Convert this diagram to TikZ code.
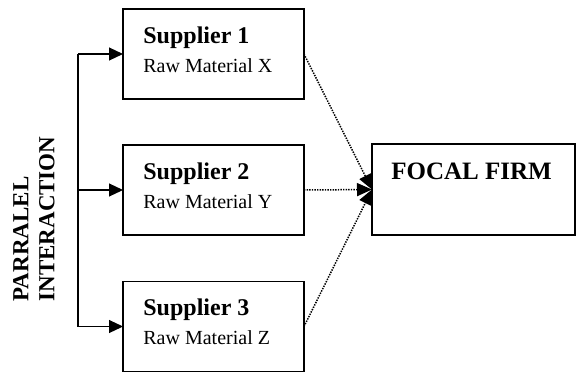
\documentclass[tikz,border=0pt]{standalone}
\usepackage{fontspec}
\setmainfont{Liberation Serif}
\usetikzlibrary{calc}
\usetikzlibrary{arrows, arrows.meta}

\begin{document}
\begin{tikzpicture}[x=0.5pt, y=-0.5pt]

\tikzset{%
supplierbox/.style={draw, line width=0.65pt, minimum width=90.5pt, minimum height=45pt, inner sep=0, outer sep=0},%
firmbox/.style={draw, line width=0.65pt, minimum width=101.5pt, minimum height=45.5pt, inner sep=0, outer sep=0},%
feedline/.style={line width=0.55pt, -{Triangle[length=7pt, width=6.5pt]}},%
flowline/.style={line width=0.75pt, dash pattern=on 0.7pt off 0.6pt, -{Triangle[length=7.5pt, width=6.5pt]}}%
}

\useasboundingbox (0, 0) rectangle (576, 375) ;

% arguments: name, centre y, number, material
\newcommand{\setsupplier}[4]{%
\path (213.5, #2) node [supplierbox] (#1) {} ;
\path ($ (#1.north west) + (20, 34) $) node [anchor=base west, inner sep=0, font=\bfseries\fontsize{12}{14}\selectfont] (#1name) {Supplier #3} ;
\path ($ (#1.north west) + (20, 63) $) node [anchor=base west, inner sep=0, font=\fontsize{10}{12}\selectfont] (#1item) {Raw Material #4} ;
}

\setsupplier{s1}{54}{1}{X}
\setsupplier{s2}{190}{2}{Y}
\setsupplier{s3}{326.5}{3}{Z}

\path (473.5, 189.5) node [firmbox] (firm) {} ;
\path ($ (firm.north) + (-2, 35) $) node [anchor=base, inner sep=0, font=\bfseries\fontsize{12.5}{14}\selectfont] (firmname) {FOCAL FIRM} ;

\path (34, 219) node [rotate=90, align=left, inner sep=0, font=\bfseries\fontsize{11.5}{13}\selectfont] (label) {PARRALEL\\INTERACTION} ;

% draw parallel feed

\path (78, 0) node [shape=coordinate] (bus) {} ;

\draw [line width=0.55pt] (bus |- s1.west) -- (bus |- s3.west) ;
\draw [feedline] (bus |- s1.west) -- (s1.west) ;
\draw [feedline] (bus |- s2.west) -- (s2.west) ;
\draw [feedline] (bus |- s3.west) -- (s3.west) ;

% draw flows to the focal firm

\draw [flowline] (s1.east) -- (firm.west) ;
\draw [flowline] (s3.east) -- (firm.west) ;
\draw [flowline] (s2.east) -- (firm.west) ;

\end{tikzpicture}
\end{document}
